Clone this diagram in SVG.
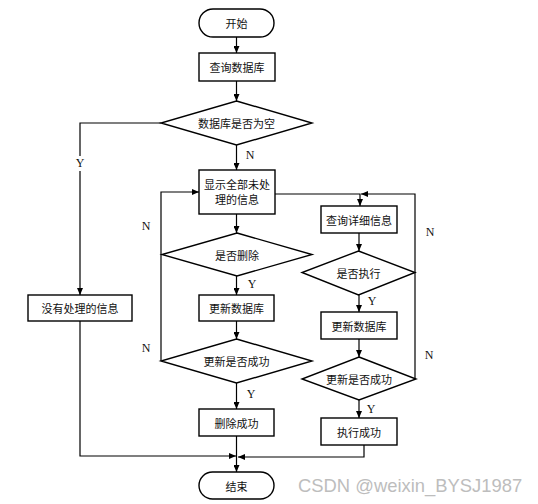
<svg xmlns="http://www.w3.org/2000/svg" width="538" height="504" viewBox="0 0 538 504">
<defs>
<marker id="a" markerWidth="7" markerHeight="6" refX="7" refY="3" orient="auto" markerUnits="userSpaceOnUse"><path d="M0,0 L7,3 L0,6 z" fill="#000"/></marker>
<style>
.n{fill:#fff;stroke:#000;stroke-width:1.4}
.t{font-family:"Noto Sans CJK SC","Noto Sans CJK JP",sans-serif;font-size:11px;fill:#111;text-anchor:middle;dominant-baseline:central}
.l{font-family:"Liberation Serif",serif;font-size:12px;fill:#111;text-anchor:middle;dominant-baseline:central}
.c{fill:none;stroke:#000;stroke-width:1.2;marker-end:url(#a)}
.p{fill:none;stroke:#000;stroke-width:1.2}
</style>
</defs>
<rect width="538" height="504" fill="#fff"/>
<g id="connectors">
<path class="c" d="M236.5,37 V53"/>
<path class="c" d="M236.5,81 V101"/>
<path class="c" d="M236.5,145 V170"/>
<path class="c" d="M161,123 H80 V295"/>
<path class="c" d="M236.5,214 V233"/>
<path class="c" d="M236.5,276 V295"/>
<path class="c" d="M236.5,321 V339"/>
<path class="c" d="M236.5,383 V409"/>
<path class="c" d="M161,361 V192 H199"/>
<path class="c" d="M275,194 H360 V206"/>
<path class="c" d="M415,379 V194 H361"/>
<path class="c" d="M359,233 V251"/>
<path class="c" d="M359,295 V312"/>
<path class="c" d="M359,339 V357"/>
<path class="c" d="M359,400 V418"/>
<path class="c" d="M236.5,436 V472"/>
<path class="c" d="M80,321 V456 H236"/>
<path class="c" d="M364,445 V457 H238"/>
<rect x="74" y="156" width="12" height="15" fill="#fff"/>
<text class="l" x="80" y="163">Y</text>
<text class="l" x="250" y="155">N</text>
<text class="l" x="252" y="284">Y</text>
<text class="l" x="251" y="394">Y</text>
<text class="l" x="146" y="226">N</text>
<text class="l" x="146" y="348">N</text>
<text class="l" x="430" y="232">N</text>
<text class="l" x="429" y="355">N</text>
<text class="l" x="372" y="301">Y</text>
<text class="l" x="371" y="409">Y</text>
</g>
<g id="start"><rect class="n" x="199" y="9" width="75" height="28" rx="14"/><text class="t" x="236.5" y="23">开始</text></g>
<g id="query-db"><rect class="n" x="199" y="53" width="76" height="28"/><text class="t" x="237" y="67">查询数据库</text></g>
<g id="db-empty"><polygon class="n" points="236.5,101 312,123 236.5,145 161,123"/><text class="t" x="236.5" y="123">数据库是否为空</text></g>
<g id="no-info"><rect class="n" x="28" y="295" width="104" height="26"/><text class="t" x="80" y="308">没有处理的信息</text></g>
<g id="show-all"><rect class="n" x="199" y="170" width="76" height="44"/><text class="t" x="237" y="184">显示全部未处</text><text class="t" x="237" y="199">理的信息</text></g>
<g id="is-delete"><polygon class="n" points="237,233 312,254.5 237,276 162,254.5"/><text class="t" x="237" y="254.5">是否删除</text></g>
<g id="update-db-left"><rect class="n" x="199" y="295" width="75" height="26"/><text class="t" x="236.5" y="308">更新数据库</text></g>
<g id="update-ok-left"><polygon class="n" points="236.5,339 312,361 236.5,383 161,361"/><text class="t" x="236.5" y="361">更新是否成功</text></g>
<g id="delete-ok"><rect class="n" x="199" y="409" width="75" height="27"/><text class="t" x="236.5" y="422.5">删除成功</text></g>
<g id="end"><rect class="n" x="199" y="472" width="75" height="27" rx="13.5"/><text class="t" x="236.5" y="485.5">结束</text></g>
<g id="query-detail"><rect class="n" x="321" y="206" width="76" height="27"/><text class="t" x="359" y="219.5">查询详细信息</text></g>
<g id="is-exec"><polygon class="n" points="358.5,251 415,272.5 358.5,295 302,272.5"/><text class="t" x="358.5" y="272.5">是否执行</text></g>
<g id="update-db-right"><rect class="n" x="321" y="312" width="76" height="27"/><text class="t" x="359" y="325.5">更新数据库</text></g>
<g id="update-ok-right"><polygon class="n" points="359,357 416,379 359,400 302,379"/><text class="t" x="359" y="379">更新是否成功</text></g>
<g id="exec-ok"><rect class="n" x="321" y="418" width="76" height="27"/><text class="t" x="359" y="431.5">执行成功</text></g>
<text x="298" y="492" font-family="Liberation Sans, Arial, sans-serif" font-size="18.4" fill="#bdbdbd">CSDN @weixin_BYSJ1987</text>
</svg>
